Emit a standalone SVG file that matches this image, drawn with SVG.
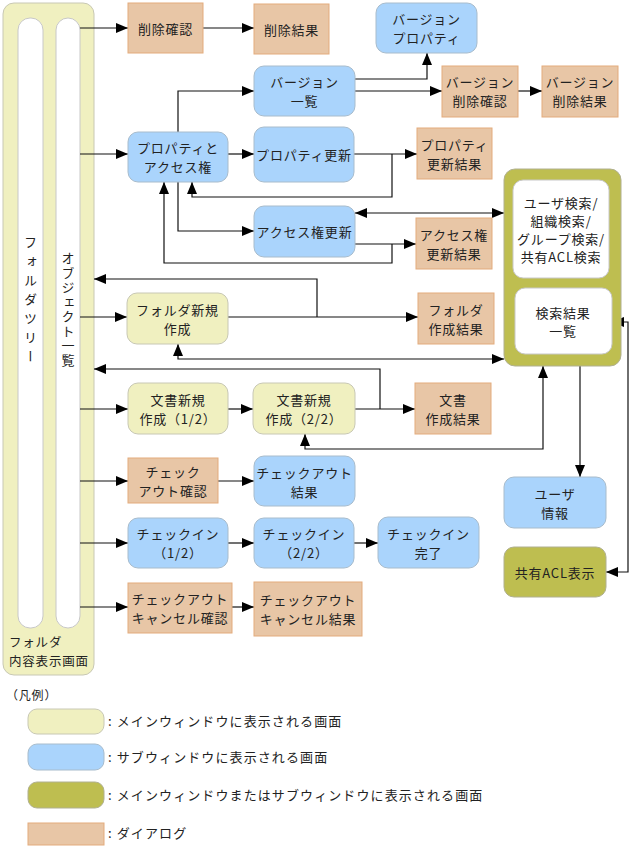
<svg xmlns="http://www.w3.org/2000/svg" width="633" height="847" viewBox="0 0 633 847">
<style>
text{font-family:"Noto Sans CJK JP","Noto Sans",sans-serif;font-size:13px;fill:#222;letter-spacing:0.8px}
.c{text-anchor:middle;dominant-baseline:central}
.lg{font-size:13px;letter-spacing:1.1px}
.main{fill:#f0f0c0;stroke:#c8c8b4;stroke-width:1}
.sub{fill:#aad4fc;stroke:#a8bccc;stroke-width:1}
.both{fill:#bebe50;stroke:#b0b090;stroke-width:1}
.dlg{fill:#e8c6a6;stroke:#e3ab7c;stroke-width:1}
.wht{fill:#fff;stroke:#c8c8c8;stroke-width:1}
.ln2{fill:none;stroke:#111;stroke-width:1.2;marker-end:url(#ah)}
.ln3{fill:none;stroke:#111;stroke-width:1.2;marker-end:url(#ah);marker-start:url(#as)}
</style>
<defs>
<marker id="ah" markerUnits="userSpaceOnUse" markerWidth="12" markerHeight="10" refX="12" refY="5" orient="auto"><path d="M0,0 L12,5 L0,10 z" fill="#000"/></marker>
<marker id="as" markerUnits="userSpaceOnUse" markerWidth="12" markerHeight="10" refX="12" refY="5" orient="auto-start-reverse"><path d="M0,0 L12,5 L0,10 z" fill="#000"/></marker>
</defs>

<g id="folder-screen">
<rect class="main" x="3" y="3" width="91" height="672" rx="11"/>
<rect class="wht" x="18" y="18" width="25" height="610" rx="12"/>
<rect class="wht" x="56" y="18" width="24" height="610" rx="12"/>
<text x="30.5" y="302" style="writing-mode:vertical-rl;text-anchor:middle;letter-spacing:6px">フォルダツリー</text>
<text x="68" y="310" style="writing-mode:vertical-rl;text-anchor:middle;letter-spacing:1.5px">オブジェクト一覧</text>
<text x="9" y="647" style="font-size:12.5px">フォルダ</text>
<text x="9" y="666" style="font-size:12.5px">内容表示画面</text>
</g>

<g id="connectors">
<path class="ln2" d="M80,28 H128"/>
<path class="ln2" d="M203,28 H254"/>
<path class="ln2" d="M80,154 H128"/>
<path class="ln2" d="M178,132 V91 H254"/>
<path class="ln2" d="M355,79 H427 V53"/>
<path class="ln2" d="M355,91 H442"/>
<path class="ln2" d="M518,91 H542"/>
<path class="ln2" d="M228,154 H254"/>
<path class="ln2" d="M354,154 H417"/>
<path class="ln2" d="M392,154 V197 H192 V182"/>
<path class="ln2" d="M178,182 V231 H254"/>
<path class="ln2" d="M355,244 H416"/>
<path class="ln2" d="M392,244 V263 H164 V182"/>
<path class="ln3" d="M355,213 H504"/>
<path class="ln2" d="M80,317 H127"/>
<path class="ln2" d="M228,317 H418"/>
<path class="ln2" d="M317,317 V279 H94"/>
<path class="ln3" d="M178,344 V359 H504"/>
<path class="ln2" d="M80,409 H128"/>
<path class="ln2" d="M228,409 H253"/>
<path class="ln2" d="M355,409 H415"/>
<path class="ln2" d="M380,409 V369 H94"/>
<path class="ln3" d="M305,434 V449 H543 V366"/>
<path class="ln2" d="M580,354 V477"/>
<path class="ln3" d="M612,322 H628 V572 H606"/>
<path class="ln2" d="M80,481 H128"/>
<path class="ln2" d="M218,481 H254"/>
<path class="ln2" d="M80,543 H128"/>
<path class="ln2" d="M228,543 H254"/>
<path class="ln2" d="M354,543 H378"/>
<path class="ln2" d="M80,607 H128"/>
<path class="ln2" d="M232,607 H254"/>
</g>

<g id="delete-confirm"><rect class="dlg" x="128" y="3" width="75" height="50"/><text class="c" x="165.5" y="28">削除確認</text></g>
<g id="delete-result"><rect class="dlg" x="254" y="4" width="75" height="50"/><text class="c" x="291.5" y="29">削除結果</text></g>
<g id="version-property"><rect class="sub" x="376" y="3" width="101" height="50" rx="10"/><text class="c" x="426.5" y="18.5">バージョン</text><text class="c" x="426.5" y="37.5">プロパティ</text></g>
<g id="version-list"><rect class="sub" x="254" y="66" width="101" height="50" rx="10"/><text class="c" x="304.5" y="81.5">バージョン</text><text class="c" x="304.5" y="100.5">一覧</text></g>
<g id="version-delete-confirm"><rect class="dlg" x="442" y="66" width="76" height="51"/><text class="c" x="480" y="81.5">バージョン</text><text class="c" x="480" y="100.5">削除確認</text></g>
<g id="version-delete-result"><rect class="dlg" x="542" y="66" width="76" height="51"/><text class="c" x="580" y="81.5">バージョン</text><text class="c" x="580" y="100.5">削除結果</text></g>
<g id="property-access"><rect class="sub" x="128" y="132" width="100" height="50" rx="10"/><text class="c" x="178" y="147.5">プロパティと</text><text class="c" x="178" y="166.5">アクセス権</text></g>
<g id="property-update"><rect class="sub" x="254" y="127" width="100" height="55" rx="10"/><text class="c" x="304" y="154.5">プロパティ更新</text></g>
<g id="property-update-result"><rect class="dlg" x="417" y="128" width="75" height="51"/><text class="c" x="454.5" y="144">プロパティ</text><text class="c" x="454.5" y="163">更新結果</text></g>
<g id="access-update"><rect class="sub" x="254" y="206" width="101" height="51" rx="10"/><text class="c" x="304.5" y="231.5">アクセス権更新</text></g>
<g id="access-update-result"><rect class="dlg" x="416" y="218" width="76" height="51"/><text class="c" x="454" y="234">アクセス権</text><text class="c" x="454" y="253">更新結果</text></g>

<g id="search-panel">
<rect class="both" x="504" y="169" width="117" height="197" rx="11"/>
<rect class="wht" x="513" y="180" width="96" height="98" rx="10"/>
<text class="c" x="561" y="202">ユーザ検索/</text>
<text class="c" x="561" y="220">組織検索/</text>
<text class="c" x="561" y="238">グループ検索/</text>
<text class="c" x="561" y="256">共有ACL検索</text>
</g>
<g id="search-result">
<rect class="wht" x="515" y="288" width="97" height="66" rx="10"/>
<text class="c" x="563" y="312">検索結果</text>
<text class="c" x="563" y="330">一覧</text>
</g>

<g id="folder-new"><rect class="main" x="127" y="293" width="101" height="51" rx="10"/><text class="c" x="177.5" y="309">フォルダ新規</text><text class="c" x="177.5" y="328">作成</text></g>
<g id="folder-new-result"><rect class="dlg" x="418" y="293" width="76" height="51"/><text class="c" x="456" y="309">フォルダ</text><text class="c" x="456" y="328">作成結果</text></g>
<g id="doc-new-1"><rect class="main" x="128" y="383" width="100" height="51" rx="10"/><text class="c" x="178" y="399">文書新規</text><text class="c" x="178" y="418">作成（1/2）</text></g>
<g id="doc-new-2"><rect class="main" x="253" y="383" width="102" height="51" rx="10"/><text class="c" x="304" y="399">文書新規</text><text class="c" x="304" y="418">作成（2/2）</text></g>
<g id="doc-new-result"><rect class="dlg" x="415" y="383" width="76" height="51"/><text class="c" x="453" y="399">文書</text><text class="c" x="453" y="418">作成結果</text></g>
<g id="checkout-confirm"><rect class="dlg" x="128" y="458" width="90" height="45"/><text class="c" x="173" y="471">チェック</text><text class="c" x="173" y="490">アウト確認</text></g>
<g id="checkout-result"><rect class="sub" x="254" y="456" width="101" height="50" rx="10"/><text class="c" x="304.5" y="472">チェックアウト</text><text class="c" x="304.5" y="491">結果</text></g>
<g id="checkin-1"><rect class="sub" x="128" y="518" width="100" height="50" rx="10"/><text class="c" x="178" y="533.5">チェックイン</text><text class="c" x="178" y="552.5">（1/2）</text></g>
<g id="checkin-2"><rect class="sub" x="254" y="518" width="100" height="50" rx="10"/><text class="c" x="304" y="533.5">チェックイン</text><text class="c" x="304" y="552.5">（2/2）</text></g>
<g id="checkin-done"><rect class="sub" x="378" y="517" width="101" height="51" rx="10"/><text class="c" x="428.5" y="533">チェックイン</text><text class="c" x="428.5" y="552">完了</text></g>
<g id="checkout-cancel-confirm"><rect class="dlg" x="128" y="583" width="104" height="50"/><text class="c" x="180" y="598.5">チェックアウト</text><text class="c" x="180" y="617.5">キャンセル確認</text></g>
<g id="checkout-cancel-result"><rect class="dlg" x="254" y="582" width="108" height="54"/><text class="c" x="308" y="599.5">チェックアウト</text><text class="c" x="308" y="618.5">キャンセル結果</text></g>
<g id="user-info"><rect class="sub" x="504" y="477" width="102" height="51" rx="10"/><text class="c" x="555" y="493">ユーザ</text><text class="c" x="555" y="512">情報</text></g>
<g id="shared-acl"><rect class="both" x="504" y="547" width="102" height="50" rx="10"/><text class="c" x="555" y="572">共有ACL表示</text></g>

<g id="legend">
<text x="6" y="700" style="font-size:12px">（凡例）</text>
<rect class="main" x="28" y="709" width="76" height="25" rx="9"/>
<text class="lg" x="108" y="726">: メインウィンドウに表示される画面</text>
<rect class="sub" x="28" y="744" width="76" height="26" rx="9"/>
<text class="lg" x="108" y="762">: サブウィンドウに表示される画面</text>
<rect class="both" x="28" y="782" width="76" height="26" rx="9"/>
<text class="lg" x="108" y="800">: メインウィンドウまたはサブウィンドウに表示される画面</text>
<rect class="dlg" x="28" y="823" width="76" height="22"/>
<text class="lg" x="108" y="838">: ダイアログ</text>
</g>
</svg>
